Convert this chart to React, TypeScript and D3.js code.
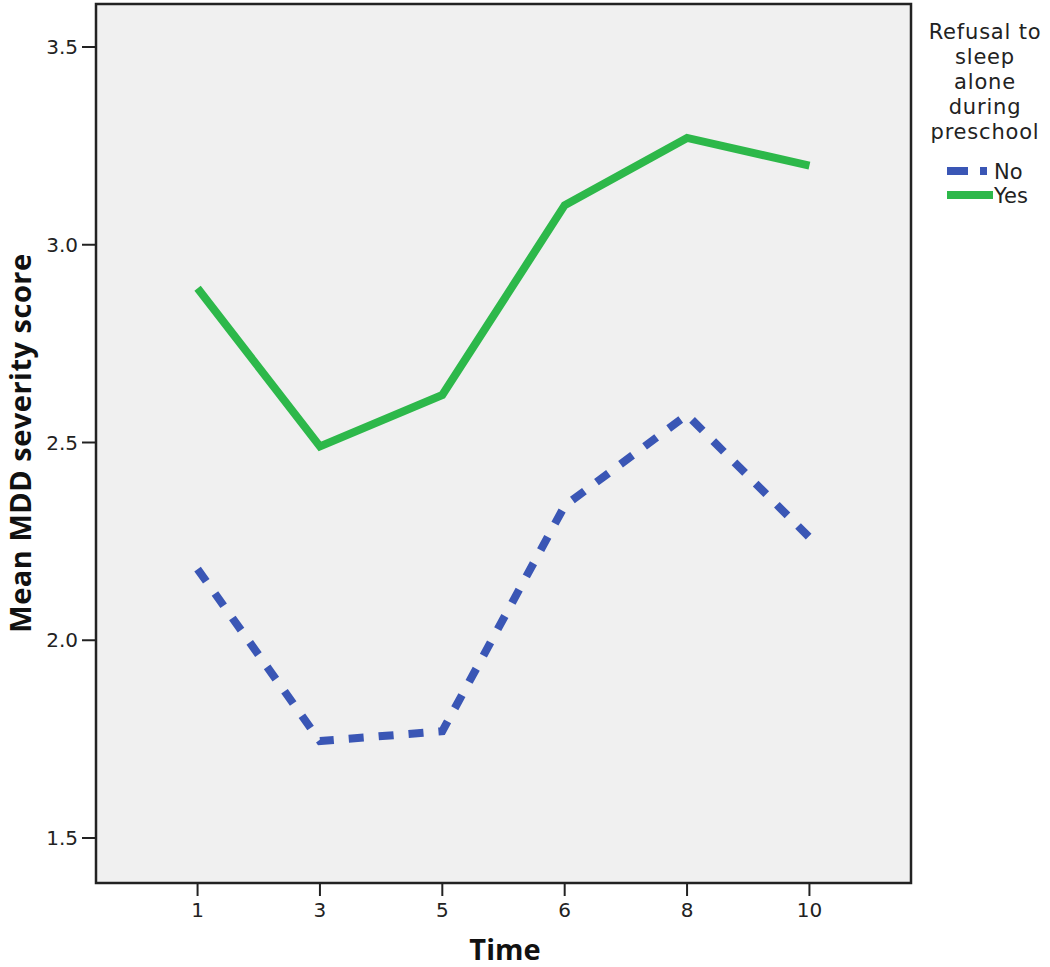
import React from "react";
import * as d3 from "d3";

const timeLabels = ["1", "3", "5", "6", "8", "10"];
const noValues = [2.18, 1.745, 1.77, 2.34, 2.57, 2.26];
const yesValues = [2.89, 2.49, 2.62, 3.1, 3.27, 3.2];
const yTicks = [1.5, 2.0, 2.5, 3.0, 3.5];
const legendTitle = ["Refusal to", "sleep", "alone", "during", "preschool"];
const seriesNames = ["No", "Yes"];

const BLUE = "#3a56b5";
const GREEN = "#2db84a";

export default function App() {
  const W = 1050, H = 967;
  const left = 96, right = 911, top = 4, bottom = 883;
  const x = d3.scalePoint<string>().domain(timeLabels).range([left, right]).padding(0.83);
  const y = d3.scaleLinear().domain([1.5, 3.5]).range([838, 47]);
  const line = d3.line<number>().x((_, i) => x(timeLabels[i])!).y((d) => y(d));
  const tickFont = "'DejaVu Sans', sans-serif";
  const titleFont = "'Open Sans', 'DejaVu Sans', sans-serif";
  return (
    <svg width={W} height={H} style={{ position: "absolute", left: 0, top: 0 }}>
      <rect x={0} y={0} width={W} height={H} fill="#fff" />
      <rect x={left} y={top} width={right - left} height={bottom - top} fill="#f0f0f0" />
      {yTicks.map((t) => (
        <g key={t}>
          <line x1={left - 14} x2={left} y1={y(t)} y2={y(t)} stroke="#222" strokeWidth={2} />
          <text x={left - 18} y={y(t)} dy="0.36em" textAnchor="end" fontFamily={tickFont} fontSize={20} fill="#222">
            {t.toFixed(1)}
          </text>
        </g>
      ))}
      {timeLabels.map((t) => (
        <g key={t}>
          <line x1={x(t)} x2={x(t)} y1={bottom} y2={bottom + 13} stroke="#222" strokeWidth={2} />
          <text x={x(t)} y={bottom + 34} textAnchor="middle" fontFamily={tickFont} fontSize={20} fill="#222">
            {t}
          </text>
        </g>
      ))}
      <path d={line(yesValues)!} fill="none" stroke={GREEN} strokeWidth={8} strokeLinejoin="miter" />
      <path d={line(noValues)!} fill="none" stroke={BLUE} strokeWidth={8} strokeDasharray="15,15" />
      <rect x={left} y={top} width={right - left} height={bottom - top} fill="none" stroke="#222" strokeWidth={2.5} />
      <text x={505} y={960} textAnchor="middle" fontFamily={titleFont} fontWeight="bold" fontSize={29} fill="#111">
        Time
      </text>
      <text
        transform={`translate(31,${443}) rotate(-90)`}
        textAnchor="middle"
        fontFamily={titleFont}
        fontWeight="bold"
        fontSize={29}
        letterSpacing={0.5}
        fill="#111"
      >
        Mean MDD severity score
      </text>
      {legendTitle.map((s, i) => (
        <text key={s} x={985} y={39 + i * 25} textAnchor="middle" fontFamily={tickFont} fontSize={21} letterSpacing={0.8} fill="#222">
          {s}
        </text>
      ))}
      <line x1={947} x2={987} y1={171} y2={171} stroke={BLUE} strokeWidth={8} strokeDasharray="21,12,7,100" />
      <line x1={947} x2={993} y1={195} y2={195} stroke={GREEN} strokeWidth={8} />
      <text x={994} y={179} fontFamily={tickFont} fontSize={21} fill="#222">{seriesNames[0]}</text>
      <text x={994} y={203} fontFamily={tickFont} fontSize={21} fill="#222">{seriesNames[1]}</text>
    </svg>
  );
}
